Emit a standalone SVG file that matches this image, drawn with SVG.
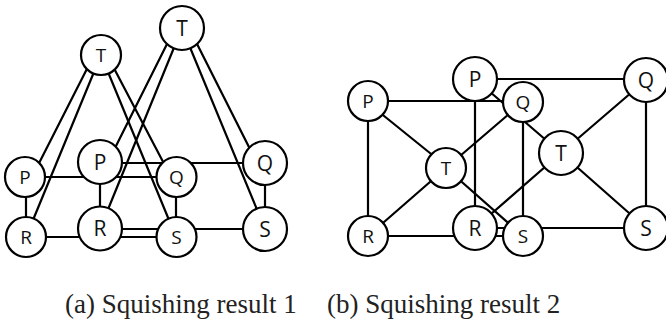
<svg xmlns="http://www.w3.org/2000/svg" width="666" height="327" viewBox="0 0 666 327">
<style>
.e{stroke:#000;stroke-width:2.2;fill:none;stroke-linecap:round}
.n{fill:#fff;stroke:#000;stroke-width:2.2}
.s{font-family:"Open Sans","DejaVu Sans",sans-serif;font-size:19px;text-anchor:middle;fill:#111}
.b{font-family:"Open Sans","DejaVu Sans",sans-serif;font-size:21px;text-anchor:middle;fill:#111}
.cap{font-family:"Liberation Serif","Times New Roman",serif;font-size:27px;fill:#222}
</style>
<rect width="666" height="327" fill="#fff"/>
<g id="connectors">
<!-- (a) small graph -->
<line class="e" x1="94" y1="55" x2="32" y2="177"/>
<line class="e" x1="101" y1="55" x2="26" y2="237"/>
<line class="e" x1="107" y1="55" x2="171" y2="177"/>
<line class="e" x1="101" y1="55" x2="176" y2="237"/>
<line class="e" x1="25" y1="177" x2="177" y2="177"/>
<line class="e" x1="26" y1="177" x2="26" y2="237"/>
<line class="e" x1="176" y1="177" x2="176" y2="237"/>
<line class="e" x1="26" y1="237" x2="176" y2="237"/>
<!-- (a) large graph -->
<line class="e" x1="175" y1="28" x2="108" y2="162"/>
<line class="e" x1="182" y1="28" x2="100" y2="229"/>
<line class="e" x1="189" y1="28" x2="257" y2="163"/>
<line class="e" x1="182" y1="28" x2="265" y2="229"/>
<line class="e" x1="100" y1="163" x2="265" y2="163"/>
<line class="e" x1="100" y1="162" x2="100" y2="229"/>
<line class="e" x1="265" y1="163" x2="265" y2="229"/>
<line class="e" x1="100" y1="229" x2="265" y2="229"/>
<!-- (b) small graph -->
<line class="e" x1="368" y1="101" x2="523" y2="101"/>
<line class="e" x1="368" y1="101" x2="368" y2="236"/>
<line class="e" x1="368" y1="103" x2="446" y2="166"/>
<line class="e" x1="523" y1="102" x2="446" y2="168"/>
<line class="e" x1="523" y1="102" x2="523" y2="236"/>
<line class="e" x1="368" y1="236" x2="446" y2="168"/>
<line class="e" x1="523" y1="236" x2="446" y2="168"/>
<line class="e" x1="368" y1="236" x2="523" y2="236"/>
<!-- (b) large graph -->
<line class="e" x1="475" y1="79" x2="646" y2="79"/>
<line class="e" x1="475" y1="79" x2="475" y2="228"/>
<line class="e" x1="475" y1="79" x2="561" y2="153"/>
<line class="e" x1="646" y1="80" x2="561" y2="153"/>
<line class="e" x1="475" y1="228" x2="561" y2="153"/>
<line class="e" x1="646" y1="228" x2="561" y2="153"/>
<line class="e" x1="646" y1="80" x2="646" y2="228"/>
<line class="e" x1="475" y1="228" x2="646" y2="228"/>
</g>
<!-- (a) nodes -->
<g id="a-T1"><circle class="n" cx="101" cy="55" r="20"/><text class="s" x="101" y="61.8">T</text></g>
<g id="a-P1"><circle class="n" cx="25" cy="177" r="20"/><text class="s" x="25" y="183.8">P</text></g>
<g id="a-Q1"><circle class="n" cx="176.5" cy="177" r="20"/><text class="s" x="176.5" y="183.8">Q</text></g>
<g id="a-R1"><circle class="n" cx="26" cy="237" r="20"/><text class="s" x="26" y="243.8">R</text></g>
<g id="a-S1"><circle class="n" cx="176.5" cy="237" r="20"/><text class="s" x="176.5" y="243.8">S</text></g>
<g id="a-T2"><circle class="n" cx="182" cy="28" r="22"/><text class="b" x="182" y="35.5">T</text></g>
<g id="a-P2"><circle class="n" cx="100" cy="162" r="22"/><text class="b" x="100" y="169.5">P</text></g>
<g id="a-Q2"><circle class="n" cx="265" cy="163" r="22"/><text class="b" x="265" y="170.5">Q</text></g>
<g id="a-R2"><circle class="n" cx="100" cy="228.5" r="22"/><text class="b" x="100" y="236">R</text></g>
<g id="a-S2"><circle class="n" cx="265" cy="229" r="22"/><text class="b" x="265" y="236.5">S</text></g>
<!-- (b) nodes -->
<g id="b-P1"><circle class="n" cx="368" cy="101" r="20"/><text class="s" x="368" y="107.8">P</text></g>
<g id="b-Q1"><circle class="n" cx="523" cy="102" r="20"/><text class="s" x="523" y="108.8">Q</text></g>
<g id="b-T1"><circle class="n" cx="446" cy="168" r="20"/><text class="s" x="446" y="174.8">T</text></g>
<g id="b-R1"><circle class="n" cx="368" cy="236" r="20"/><text class="s" x="368" y="242.8">R</text></g>
<g id="b-S1"><circle class="n" cx="523" cy="236" r="20"/><text class="s" x="523" y="242.8">S</text></g>
<g id="b-P2"><circle class="n" cx="475" cy="79" r="22"/><text class="b" x="475" y="86.5">P</text></g>
<g id="b-Q2"><circle class="n" cx="646" cy="80" r="22"/><text class="b" x="646" y="87.5">Q</text></g>
<g id="b-T2"><circle class="n" cx="561" cy="153" r="22"/><text class="b" x="561" y="160.5">T</text></g>
<g id="b-R2"><circle class="n" cx="475" cy="228" r="22"/><text class="b" x="475" y="235.5">R</text></g>
<g id="b-S2"><circle class="n" cx="646" cy="228" r="22"/><text class="b" x="646" y="235.5">S</text></g>
<text class="cap" x="65" y="313">(a) Squishing result 1</text>
<text class="cap" x="327" y="313">(b) Squishing result 2</text>
</svg>
